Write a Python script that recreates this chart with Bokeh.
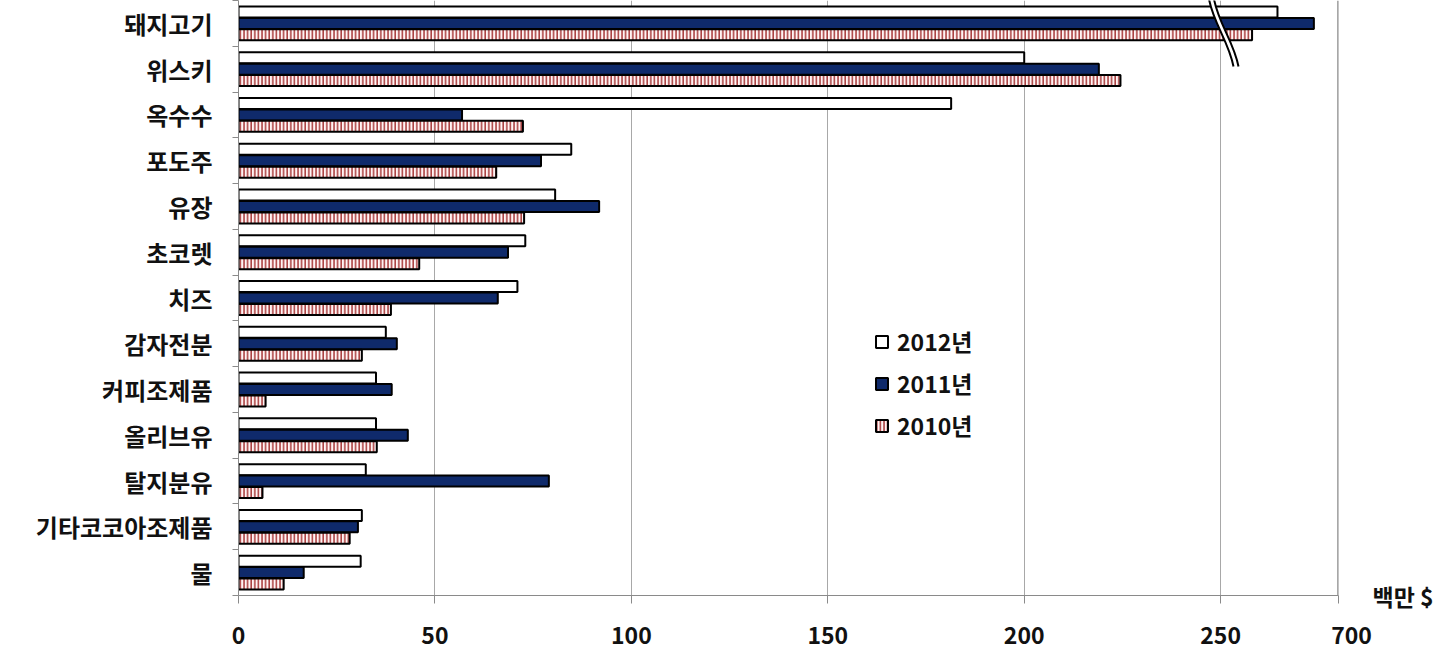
from bokeh.plotting import figure
from bokeh.models import FixedTicker, Legend, LegendItem, ColumnDataSource, Range1d, Span, LinearAxis
from bokeh.embed import file_html
from bokeh.resources import INLINE

categories = ["돼지고기", "위스키", "옥수수", "포도주", "유장", "초코렛", "치즈",
              "감자전분", "커피조제품", "올리브유", "탈지분유", "기타코코아조제품", "물"]
series_names = ["2012년", "2011년", "2010년"]
v2012 = [467, 200, 181.4, 84.7, 80.6, 73, 71, 37.5, 35, 35, 32.4, 31.4, 31.1]
v2011 = [606, 219, 56.9, 77, 91.8, 68.6, 66, 40.3, 39, 43.1, 79, 30.4, 16.6]
v2010 = [370, 224.5, 72.4, 65.6, 72.7, 46, 38.8, 31.4, 6.9, 35.2, 6.1, 28.3, 11.5]
tick_values = [0, 50, 100, 150, 200, 250, 700]
unit_label = "백만 $"

BREAK = 250
TOP = 700
BREAK_SPAN = 30  # display units used for 250..700


def disp(v):
    return v if v <= BREAK else BREAK + (v - BREAK) * BREAK_SPAN / (TOP - BREAK)


n = len(categories)
centers = [n - i - 0.5 for i in range(n)]
FONT = "Noto Sans CJK KR"

p = figure(width=1437, height=658, output_backend="svg", toolbar_location=None,
           x_range=Range1d(0, disp(TOP)), y_range=Range1d(0, n),
           min_border_left=238, min_border_right=99, min_border_top=0, min_border_bottom=63)
p.outline_line_color = None
p.background_fill_color = "white"
p.border_fill_color = "white"

bh = 0.24
off = 0.25
styles = [
    dict(fill_color="white", line_color="black", line_width=2),
    dict(fill_color="#0f2a6b", line_color="black", line_width=2),
    dict(fill_color="#fff4f4", line_color="black", line_width=2,
         hatch_pattern="vertical_line", hatch_color="#9a1c1c", hatch_scale=3.6, hatch_weight=1.3),
]
renderers = []
for k, vals in enumerate([v2012, v2011, v2010]):
    src = ColumnDataSource(dict(y=[c + off * (1 - k) for c in centers],
                                right=[disp(v) for v in vals]))
    r = p.hbar(y="y", left=0, right="right", height=bh, source=src, **styles[k])
    renderers.append(r)

# axes
xt = [disp(t) for t in tick_values]
p.xaxis.ticker = FixedTicker(ticks=xt)
overrides = {disp(t): str(t) for t in tick_values}
overrides[disp(TOP)] = "\u00a0\u00a0\u00a0\u00a0\u00a0" + str(TOP)
p.xaxis.major_label_overrides = overrides
p.xaxis.axis_line_color = "#8a8a8a"
p.xaxis.major_tick_line_color = "#8a8a8a"
p.xaxis.major_tick_out = 8
p.xaxis.major_tick_in = 0
p.xaxis.minor_tick_line_color = None
p.xaxis.major_label_standoff = 13
p.xaxis.major_label_text_font = FONT
p.xaxis.major_label_text_font_size = "23px"
p.xaxis.major_label_text_font_style = "bold"
p.xaxis.major_label_text_color = "#111111"

p.yaxis.ticker = FixedTicker(ticks=centers, minor_ticks=list(range(n + 1)))
p.yaxis.major_label_overrides = {c: name for c, name in zip(centers, categories)}
p.yaxis.axis_line_color = "#8a8a8a"
p.yaxis.major_tick_line_color = None
p.yaxis.minor_tick_line_color = "#8a8a8a"
p.yaxis.minor_tick_out = 6
p.yaxis.minor_tick_in = 0
p.yaxis.major_label_standoff = 20
p.yaxis.major_label_text_font = FONT
p.yaxis.major_label_text_font_size = "24px"
p.yaxis.major_label_text_font_style = "bold"
p.yaxis.major_label_text_color = "#111111"

# unit label on the right
ra = LinearAxis(ticker=FixedTicker(ticks=[0]), major_label_overrides={0: unit_label})
ra.axis_line_color = None
ra.major_tick_line_color = None
ra.minor_tick_line_color = None
ra.major_label_standoff = 28
ra.major_label_text_font = FONT
ra.major_label_text_font_size = "23px"
ra.major_label_text_font_style = "bold"
ra.major_label_text_color = "#111111"
p.add_layout(ra, "right")

p.xgrid.ticker = FixedTicker(ticks=xt[:-1])
p.xgrid.grid_line_color = "#a8a8a8"
p.xgrid.grid_line_width = 1
p.ygrid.grid_line_color = None
p.add_layout(Span(location=disp(TOP), dimension="height", line_color="#8a8a8a", line_width=2.5))

# break marks
ppx = 1100 / disp(TOP)
ppy = 595 / n
def dx(px):
    return (px - 238) / ppx
def dy(py):
    return n - py / ppy
for shift, col, w in [(2.5, "white", 5), (0, "black", 2), (5, "black", 2)]:
    p.bezier(x0=[dx(1208 + shift)], y0=[dy(-4)], x1=[dx(1233 + shift)], y1=[dy(66)],
             cx0=[dx(1212 + shift)], cy0=[dy(22)], cx1=[dx(1228 + shift)], cy1=[dy(40)],
             line_color=col, line_width=w)

legend = Legend(items=[LegendItem(label=s, renderers=[r]) for s, r in zip(series_names, renderers)],
                location=(636, 153), orientation="vertical")
legend.label_text_font = FONT
legend.label_text_font_size = "23px"
legend.label_text_font_style = "bold"
legend.label_text_color = "#111111"
legend.glyph_width = 15
legend.glyph_height = 15
legend.label_height = 22
legend.spacing = 8
legend.padding = 0
legend.margin = 0
legend.label_standoff = 8
legend.border_line_color = None
legend.background_fill_alpha = 0
p.add_layout(legend, "center")

open("out.html", "w").write(file_html(p, INLINE))
